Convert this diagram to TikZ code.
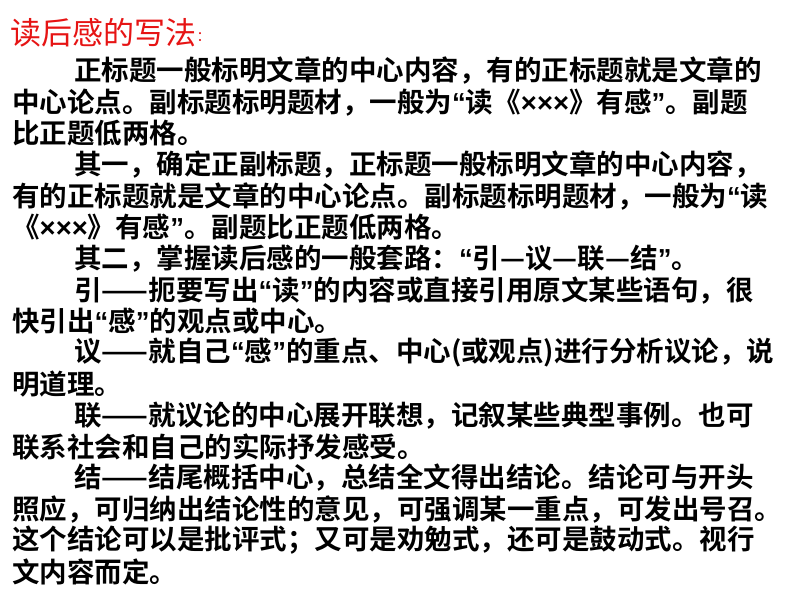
\documentclass[tikz,border=0pt]{standalone}
\usepackage{fontspec}
\newfontfamily\cjk{Noto Sans CJK SC}[BoldFont={Noto Sans CJK SC Bold}]
\newfontfamily\lat{Liberation Sans}
\newcommand{\oq}{{\lat\bfseries “}}
\newcommand{\cq}{{\lat\bfseries ”}}
\newcommand{\xxx}{{\lat\bfseries ×××}}
\definecolor{tred}{RGB}{230,20,20}
\tikzset{ln/.style={anchor=west,inner sep=0pt,font=\cjk\bfseries\fontsize{27.5}{28}\selectfont}}
\begin{document}
\begin{tikzpicture}[x=1pt,y=-1pt]
\useasboundingbox (0,0) rectangle (794,596);
\node[anchor=west,inner sep=0pt,text=tred,font=\cjk\fontsize{31}{31}\selectfont] (t) at (10,33) {读后感的写法};
\node[anchor=west,inner sep=0pt,text=tred,font=\cjk\fontsize{14}{14}\selectfont] (tc) at ([yshift=-4pt]t.east) {：};
\foreach \i/\x/\s in {
0/74/正标题一般标明文章的中心内容，有的正标题就是文章的,
1/12/中心论点。副标题标明题材，一般为\oq 读《\xxx》有感\cq。副题,
2/12/比正题低两格。,
3/74/其一，确定正副标题，正标题一般标明文章的中心内容，,
4/12/有的正标题就是文章的中心论点。副标题标明题材，一般为\oq 读,
5/12/《\xxx》有感\cq。副题比正题低两格。,
6/74/其二，掌握读后感的一般套路：\oq 引—议—联—结\cq。,
7/74/引——扼要写出\oq 读\cq 的内容或直接引用原文某些语句，很,
8/12/快引出\oq 感\cq 的观点或中心。,
9/74/议——就自己\oq 感\cq 的重点、中心(或观点)进行分析议论，说,
10/12/明道理。,
11/74/联——就议论的中心展开联想，记叙某些典型事例。也可,
12/12/联系社会和自己的实际抒发感受。,
13/74/结——结尾概括中心，总结全文得出结论。结论可与开头,
14/12/照应，可归纳出结论性的意见，可强调某一重点，可发出号召。,
15/12/这个结论可以是批评式；又可是劝勉式，还可是鼓动式。视行,
16/12/文内容而定。}
  \node[ln] (l\i) at (\x,{71+31.3*\i}) {\s};
\end{tikzpicture}
\end{document}
